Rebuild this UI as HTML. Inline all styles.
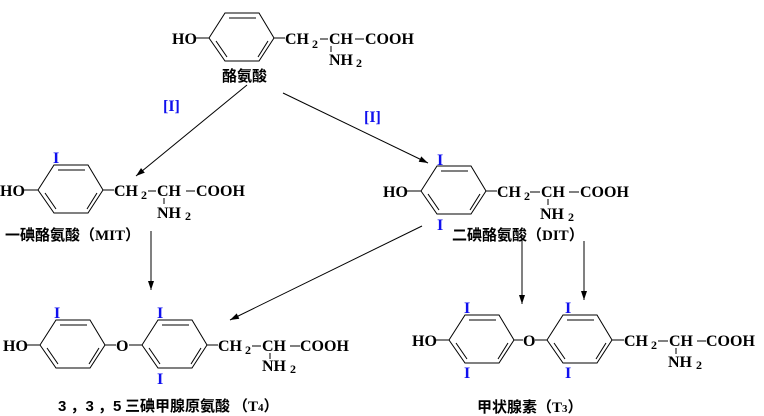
<!DOCTYPE html>
<html><head><meta charset="utf-8"><style>
html,body{margin:0;padding:0;background:#fff}
svg{display:block}
.t{font-family:"Liberation Serif",serif;font-weight:bold;font-size:16px;fill:#000}
.s{font-family:"Liberation Serif",serif;font-weight:bold;font-size:12px;fill:#000}
.i{font-family:"Liberation Serif",serif;font-weight:bold;font-size:16px;fill:#1010ee}
.c{font-family:"Liberation Sans","Noto Sans CJK SC",sans-serif;font-size:15px;font-weight:bold;fill:#000}
line,polygon{stroke:#000;stroke-width:1;fill:none}
.ah{fill:#000;stroke:none}
</style></head><body>
<svg width="764" height="416" viewBox="0 0 764 416" xmlns="http://www.w3.org/2000/svg">
<defs>
<g id="r">
<polygon points="0,0 16,-25 50,-25 65,0 50,23 16,23"/>
<line x1="20" y1="-20" x2="47" y2="-20"/>
<line x1="7" y1="3" x2="18" y2="19"/>
<line x1="59" y1="3" x2="49" y2="19"/>
</g>
<marker id="a" markerWidth="10" markerHeight="8" refX="9" refY="4" orient="auto" markerUnits="userSpaceOnUse">
<path class="ah" d="M0,1 L9,4 L0,7 Z"/>
</marker>
</defs>

<!-- Tyrosine -->
<text class="t" x="172" y="44">HO</text>
<line x1="196" y1="38" x2="209" y2="38"/>
<use href="#r" x="209" y="38"/>
<line x1="274" y1="38" x2="285" y2="38"/>
<text class="t" x="285" y="44">CH</text><text class="s" x="312" y="48">2</text>
<line x1="320" y1="39" x2="328" y2="39"/>
<text class="t" x="329" y="44">CH</text>
<line x1="331" y1="46" x2="331" y2="52"/>
<line x1="355" y1="39" x2="364" y2="39"/>
<text class="t" x="365" y="44">COOH</text>
<text class="t" x="329" y="65">NH</text><text class="s" x="356" y="67">2</text>
<text class="c" x="222" y="81">酪氨酸</text>

<!-- arrows top -->
<line x1="247" y1="85" x2="136" y2="176" marker-end="url(#a)"/>
<line x1="283" y1="93" x2="428" y2="163" marker-end="url(#a)"/>
<text class="i" x="163" y="111">[I]</text>
<text class="i" x="364" y="122">[I]</text>

<!-- MIT -->
<text class="i" x="53" y="163">I</text>
<text class="t" x="0" y="196">HO</text>
<line x1="24" y1="190" x2="38" y2="190"/>
<use href="#r" x="38" y="190"/>
<line x1="103" y1="190" x2="114" y2="190"/>
<text class="t" x="114" y="196">CH</text><text class="s" x="141" y="199">2</text>
<line x1="148" y1="191" x2="156" y2="191"/>
<text class="t" x="157" y="196">CH</text>
<line x1="164" y1="198" x2="164" y2="204"/>
<line x1="186" y1="191" x2="195" y2="191"/>
<text class="t" x="196" y="196">COOH</text>
<text class="t" x="157" y="218">NH</text><text class="s" x="185" y="220">2</text>
<text class="c" x="5" y="240">一碘酪氨酸（<tspan font-family="Liberation Serif">MIT</tspan>）</text>

<!-- DIT -->
<text class="i" x="437" y="165">I</text>
<text class="i" x="437" y="230">I</text>
<text class="t" x="383" y="197">HO</text>
<line x1="407" y1="191" x2="421" y2="191"/>
<use href="#r" x="421" y="191"/>
<line x1="486" y1="191" x2="497" y2="191"/>
<text class="t" x="497" y="197">CH</text><text class="s" x="524" y="200">2</text>
<line x1="530" y1="192" x2="540" y2="192"/>
<text class="t" x="541" y="197">CH</text>
<line x1="548" y1="199" x2="548" y2="205"/>
<line x1="569" y1="192" x2="579" y2="192"/>
<text class="t" x="580" y="197">COOH</text>
<text class="t" x="540" y="219">NH</text><text class="s" x="568" y="221">2</text>
<text class="c" x="452" y="240">二碘酪氨酸（<tspan font-family="Liberation Serif">DIT</tspan>）</text>

<!-- middle arrows -->
<line x1="151" y1="231" x2="151" y2="290" marker-end="url(#a)"/>
<line x1="422" y1="226" x2="230" y2="320" marker-end="url(#a)"/>
<line x1="522" y1="238" x2="522" y2="304" marker-end="url(#a)"/>
<line x1="584" y1="241" x2="584" y2="300" marker-end="url(#a)"/>

<!-- T4 -->
<text class="i" x="54" y="318">I</text>
<text class="i" x="157" y="318">I</text>
<text class="i" x="157" y="384">I</text>
<text class="t" x="3" y="351">HO</text>
<line x1="27" y1="345" x2="40" y2="345"/>
<use href="#r" x="40" y="345"/>
<line x1="105" y1="345" x2="116" y2="345"/>
<text class="t" x="116" y="351">O</text>
<line x1="129" y1="345" x2="142" y2="345"/>
<use href="#r" x="142" y="345"/>
<line x1="207" y1="345" x2="218" y2="345"/>
<text class="t" x="218" y="351">CH</text><text class="s" x="245" y="354">2</text>
<line x1="252" y1="346" x2="261" y2="346"/>
<text class="t" x="262" y="351">CH</text>
<line x1="270" y1="353" x2="270" y2="359"/>
<line x1="290" y1="346" x2="300" y2="346"/>
<text class="t" x="300" y="351">COOH</text>
<text class="t" x="262" y="371">NH</text><text class="s" x="290" y="373">2</text>
<text class="c" x="58" y="411" font-family="Liberation Serif">3 ，3 ，5</text>
<text class="c" x="125" y="411">三碘甲腺原氨酸</text>
<text class="c" x="233" y="411">（<tspan font-family="Liberation Serif">T</tspan><tspan font-size="11" font-family="Liberation Serif">4</tspan>）</text>

<!-- T3 -->
<text class="i" x="464" y="313">I</text>
<text class="i" x="464" y="378">I</text>
<text class="i" x="565" y="313">I</text>
<text class="i" x="565" y="378">I</text>
<text class="t" x="412" y="346">HO</text>
<line x1="436" y1="340" x2="449" y2="340"/>
<use href="#r" x="449" y="340"/>
<line x1="514" y1="340" x2="523" y2="340"/>
<text class="t" x="523" y="346">O</text>
<line x1="535" y1="340" x2="547" y2="340"/>
<use href="#r" x="547" y="340"/>
<line x1="612" y1="340" x2="624" y2="340"/>
<text class="t" x="624" y="346">CH</text><text class="s" x="651" y="349">2</text>
<line x1="658" y1="341" x2="668" y2="341"/>
<text class="t" x="669" y="346">CH</text>
<line x1="676" y1="348" x2="676" y2="354"/>
<line x1="697" y1="341" x2="706" y2="341"/>
<text class="t" x="706" y="346">COOH</text>
<text class="t" x="668" y="367">NH</text><text class="s" x="696" y="369">2</text>
<text class="c" x="477" y="412">甲状腺素（<tspan font-family="Liberation Serif">T</tspan><tspan font-size="11" font-family="Liberation Serif">3</tspan>）</text>
</svg>
</body></html>
